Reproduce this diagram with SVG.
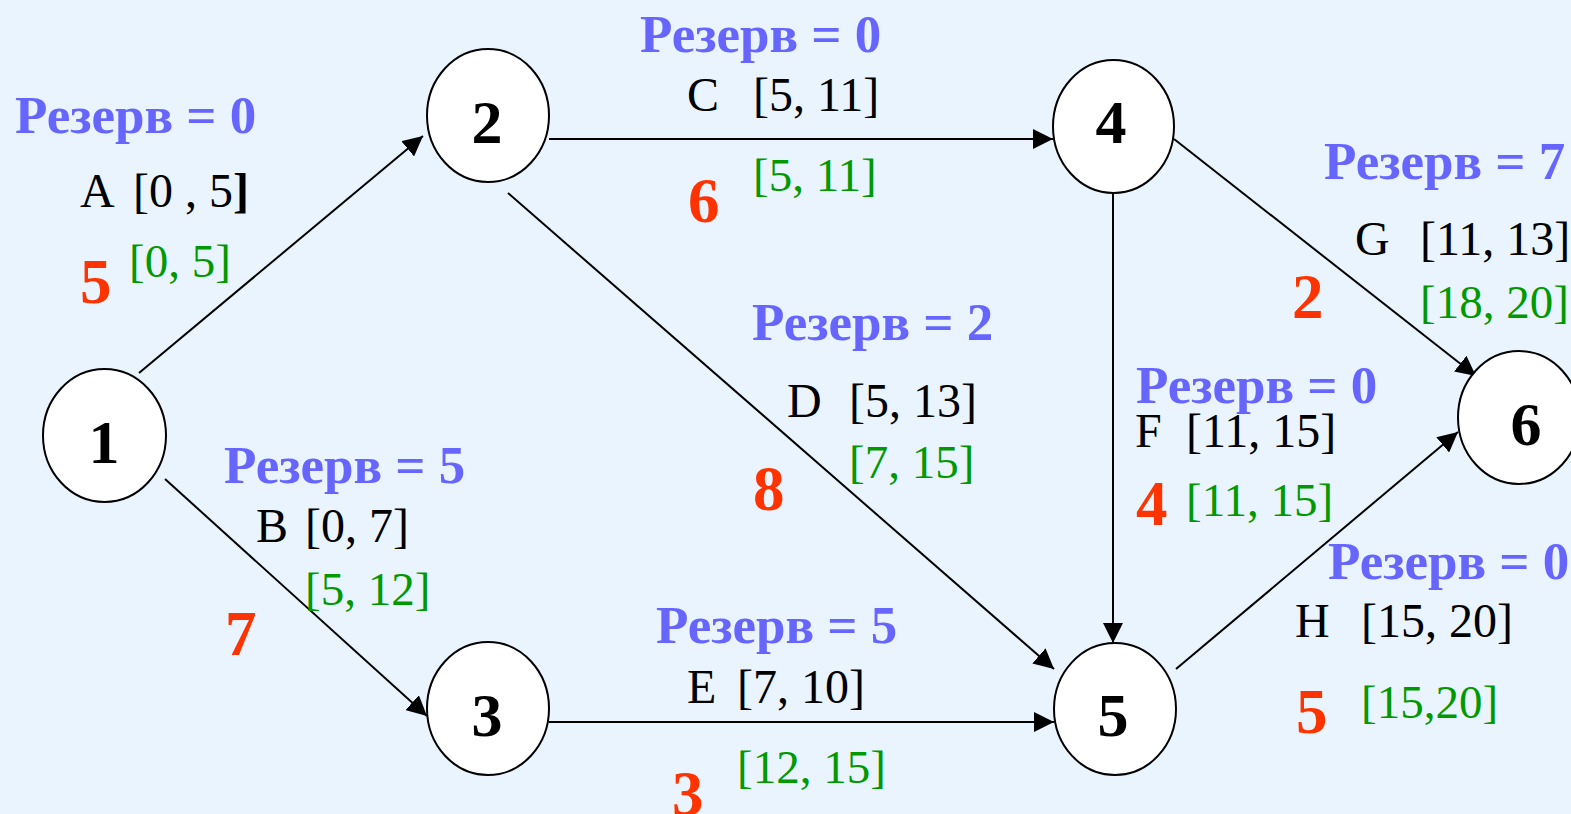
<svg xmlns="http://www.w3.org/2000/svg" width="1571" height="814" viewBox="0 0 1571 814">
  <style>
    .bg { fill: #EAF4FE; }
    .node ellipse { fill: #FFFFFF; stroke: #000000; stroke-width: 2; }
    .node text { font-family: "Liberation Serif", "Times New Roman", serif; font-weight: bold; font-size: 62px; fill: #000000; text-anchor: middle; }
    .edge { stroke: #000000; stroke-width: 2; fill: none; marker-end: url(#arrow); }
    .reserve { font-family: "Liberation Serif", "Times New Roman", serif; font-weight: bold; font-size: 53px; fill: #6666FF; }
    .early { font-family: "Liberation Serif", "Times New Roman", serif; font-size: 48px; fill: #000000; }
    .late { font-family: "Liberation Serif", "Times New Roman", serif; font-size: 47px; fill: #009900; }
    .dur { font-family: "Liberation Serif", "Times New Roman", serif; font-weight: bold; font-size: 63px; fill: #FF3300; }
  </style>
  <defs>
    <marker id="arrow" markerUnits="userSpaceOnUse" markerWidth="20" markerHeight="20" refX="20" refY="10" orient="auto">
      <path d="M0,0 L20,10 L0,20 Z" fill="#000000"/>
    </marker>
  </defs>

  <rect class="bg" x="0" y="0" width="1571" height="814"/>

  <!-- activity arrows -->
  <g id="connectors">
    <line class="edge" x1="139" y1="373" x2="423" y2="136"/>
    <line class="edge" x1="165" y1="479" x2="427" y2="716"/>
    <line class="edge" x1="549" y1="139" x2="1053" y2="139"/>
    <line class="edge" x1="508" y1="193" x2="1054" y2="669"/>
    <line class="edge" x1="549" y1="722" x2="1054" y2="722"/>
    <line class="edge" x1="1113" y1="193" x2="1113" y2="643"/>
    <line class="edge" x1="1174" y1="139" x2="1476" y2="376"/>
    <line class="edge" x1="1176" y1="669" x2="1458" y2="432"/>
  </g>

  <!-- events -->
  <g id="node1" class="node">
    <ellipse cx="104.5" cy="435.5" rx="61.5" ry="66.5"/>
    <text x="104" y="463">1</text>
  </g>
  <g id="node2" class="node">
    <ellipse cx="488" cy="115.5" rx="61" ry="66.5"/>
    <text x="487" y="143">2</text>
  </g>
  <g id="node3" class="node">
    <ellipse cx="488" cy="708.5" rx="61" ry="66.5"/>
    <text x="487" y="736">3</text>
  </g>
  <g id="node4" class="node">
    <ellipse cx="1113.5" cy="126.5" rx="60.5" ry="66.5"/>
    <text x="1111" y="143">4</text>
  </g>
  <g id="node5" class="node">
    <ellipse cx="1115" cy="709" rx="61" ry="66"/>
    <text x="1113" y="736">5</text>
  </g>
  <g id="node6" class="node">
    <ellipse cx="1519" cy="417.5" rx="61" ry="66.5"/>
    <text x="1526" y="445">6</text>
  </g>

  <!-- activity A -->
  <g id="label-A">
    <text class="reserve" x="15" y="133">Резерв = 0</text>
    <text class="early" x="80" y="207">A<tspan x="133">[0 , 5</tspan><tspan font-weight="bold">]</tspan></text>
    <text class="late" x="129" y="277">[0, 5]</text>
    <text class="dur" x="80" y="303">5</text>
  </g>

  <!-- activity B -->
  <g id="label-B">
    <text class="reserve" x="224" y="483">Резерв = 5</text>
    <text class="early" x="256" y="542">B<tspan x="305">[0, 7]</tspan></text>
    <text class="late" x="305" y="605">[5, 12]</text>
    <text class="dur" x="225" y="655">7</text>
  </g>

  <!-- activity C -->
  <g id="label-C">
    <text class="reserve" x="640" y="52">Резерв = 0</text>
    <text class="early" x="687" y="111">C<tspan x="753">[5, 11]</tspan></text>
    <text class="late" x="753" y="191">[5, 11]</text>
    <text class="dur" x="688" y="222">6</text>
  </g>

  <!-- activity D -->
  <g id="label-D">
    <text class="reserve" x="752" y="340">Резерв = 2</text>
    <text class="early" x="787" y="417">D<tspan x="849">[5, 13]</tspan></text>
    <text class="late" x="849" y="478">[7, 15]</text>
    <text class="dur" x="753" y="510">8</text>
  </g>

  <!-- activity E -->
  <g id="label-E">
    <text class="reserve" x="656" y="643">Резерв = 5</text>
    <text class="early" x="687" y="703">E<tspan x="737">[7, 10]</tspan></text>
    <text class="late" x="737" y="783">[12, 15]</text>
    <text class="dur" x="672" y="815">3</text>
  </g>

  <!-- activity F -->
  <g id="label-F">
    <text class="early" x="1135" y="447">F<tspan x="1186">[11, 15]</tspan></text>
    <text class="reserve" x="1136" y="403">Резерв = 0</text>
    <text class="late" x="1186" y="516">[11, 15]</text>
    <text class="dur" x="1136" y="525">4</text>
  </g>

  <!-- activity G -->
  <g id="label-G">
    <text class="reserve" x="1324" y="179">Резерв = 7</text>
    <text class="early" x="1355" y="255">G<tspan x="1420">[11, 13]</tspan></text>
    <text class="late" x="1420" y="318">[18, 20]</text>
    <text class="dur" x="1292" y="318">2</text>
  </g>

  <!-- activity H -->
  <g id="label-H">
    <text class="reserve" x="1328" y="579">Резерв = 0</text>
    <text class="early" x="1295" y="637">H<tspan x="1361">[15, 20]</tspan></text>
    <text class="late" x="1361" y="718">[15,20]</text>
    <text class="dur" x="1296" y="733">5</text>
  </g>
</svg>
